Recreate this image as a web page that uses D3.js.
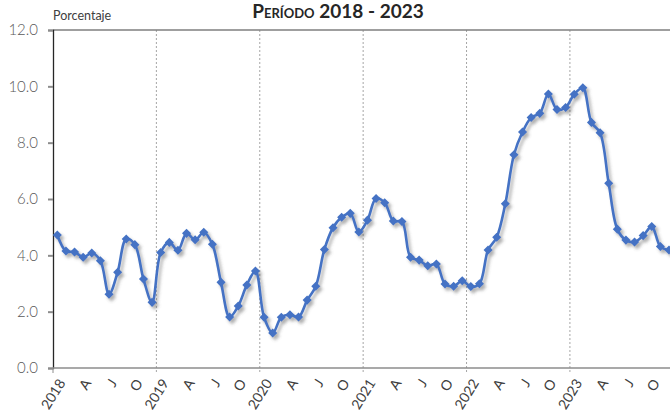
<!DOCTYPE html>
<html>
<head>
<meta charset="utf-8">
<script src="https://cdn.jsdelivr.net/npm/d3@7"></script>
<style>
  body { margin: 0; background: #fff; }
  svg { display: block; font-family: Lato, "Open Sans", sans-serif; }
</style>
</head>
<body>
<svg id="chart" width="670" height="418"></svg>
<script>
// monthly values, Jan 2018 - Dec 2023
var years = ["2018", "2019", "2020", "2021", "2022", "2023"];
var monthLetters = ["", "", "", "A", "", "", "J", "", "", "O", "", ""];
var yTicks = [0, 2, 4, 6, 8, 10, 12];

var v2018 = [4.72, 4.15, 4.12, 3.93, 4.08, 3.81, 2.62, 3.4, 4.58, 4.38, 3.16, 2.33];
var v2019 = [4.1, 4.46, 4.18, 4.78, 4.55, 4.82, 4.39, 3.04, 1.81, 2.2, 2.95, 3.44];
var v2020 = [1.8, 1.24, 1.8, 1.89, 1.81, 2.41, 2.9, 4.21, 4.98, 5.35, 5.49, 4.83];
var v2021 = [5.25, 6.02, 5.87, 5.22, 5.2, 3.93, 3.83, 3.63, 3.69, 2.98, 2.9, 3.1];
var v2022 = [2.89, 2.99, 4.19, 4.64, 5.83, 7.57, 8.38, 8.89, 9.04, 9.73, 9.18, 9.25];
var v2023 = [9.72, 9.95, 8.72, 8.35, 6.56, 4.93, 4.54, 4.47, 4.7, 5.02, 4.31, 4.19];

var values = [].concat(v2018, v2019, v2020, v2021, v2022, v2023);
var data = values.map(function (v, i) {
    return { key: i, year: years[Math.floor(i / 12)], month: i % 12, value: v };
});

var svg = d3.select("#chart");

var plotLeft = 53, plotTop = 30, plotBottom = 368, plotRight = 673.3;

var xScale = d3.scaleBand().domain(data.map(d => d.key)).range([plotLeft, plotRight]).padding(0);
var yScale = d3.scaleLinear().domain([0, 12]).range([plotBottom, plotTop]);

// shadow for the line
var defs = svg.append("defs");
var f = defs.append("filter").attr("id", "shadow")
    .attr("x", "-10%").attr("y", "-10%").attr("width", "120%").attr("height", "130%");
f.append("feDropShadow")
    .attr("dx", 2.5).attr("dy", 3).attr("stdDeviation", 1.8)
    .attr("flood-color", "#555").attr("flood-opacity", 0.45);

// title
svg.append("text")
    .attr("x", 338).attr("y", 18)
    .attr("text-anchor", "middle")
    .style("font-size", "19px")
    .style("font-weight", "bold")
    .style("font-variant", "small-caps")
    .style("fill", "#262626")
    .text("Período 2018 - 2023");

svg.append("text")
    .attr("x", 53).attr("y", 20)
    .style("font-size", "12.5px")
    .style("fill", "#404040")
    .text("Porcentaje");

// year gridlines
var yearStarts = data.filter(d => d.month === 0 && d.key > 0);
svg.append("g").selectAll("line")
    .data(yearStarts)
    .join("line")
    .attr("x1", d => xScale(d.key)).attr("x2", d => xScale(d.key))
    .attr("y1", plotTop).attr("y2", plotBottom + 4)
    .attr("stroke", "#a6a6a6")
    .attr("stroke-dasharray", "2,2");

// top border
svg.append("line")
    .attr("x1", plotLeft).attr("x2", 670)
    .attr("y1", plotTop).attr("y2", plotTop)
    .attr("stroke", "#7f7f7f").attr("stroke-width", 1.3);

// y axis
var yAxis = svg.append("g")
    .attr("transform", "translate(" + plotLeft + ",0)")
    .call(d3.axisLeft(yScale).tickValues(yTicks).tickFormat(d3.format(".1f")).tickSize(5).tickPadding(10));
yAxis.select(".domain").attr("stroke", "#262626").attr("stroke-width", 1.3);
yAxis.selectAll(".tick line").attr("stroke", "#8c8c8c").attr("stroke-width", 2);
yAxis.selectAll(".tick text")
    .style("font-size", "15px")
    .style("font-weight", 300)
    .style("fill", "#595959")
    .style("font-family", "Lato, sans-serif");

// x axis line
svg.append("line")
    .attr("x1", plotLeft).attr("x2", 670)
    .attr("y1", plotBottom).attr("y2", plotBottom)
    .attr("stroke", "#8c8c8c").attr("stroke-width", 1.3);

svg.append("line")
    .attr("x1", plotLeft).attr("x2", plotLeft)
    .attr("y1", plotBottom).attr("y2", plotBottom + 5)
    .attr("stroke", "#8c8c8c");

// x labels
var labels = data.filter(d => d.month === 0 || monthLetters[d.month] !== "");
svg.append("g").selectAll("text")
    .data(labels)
    .join("text")
    .attr("transform", d => "translate(" + (xScale(d.key) + xScale.bandwidth() / 2 + 4) + "," + 380 + ") rotate(-58)")
    .attr("text-anchor", "end")
    .attr("dominant-baseline", "central")
    .style("font-size", "14px")
    .style("fill", "#404040")
    .text(d => d.month === 0 ? d.year : monthLetters[d.month]);

// line + markers
var cx = d => xScale(d.key) + xScale.bandwidth() / 2;

var g = svg.append("g").attr("filter", "url(#shadow)");

g.append("path")
    .datum(data)
    .attr("fill", "none")
    .attr("stroke", "#4472c4")
    .attr("stroke-width", 2.6)
    .attr("d", d3.line().x(cx).y(d => yScale(d.value)).curve(d3.curveCatmullRom.alpha(0.5)));

g.selectAll(".pt")
    .data(data)
    .join("path")
    .attr("class", "pt")
    .attr("transform", d => "translate(" + cx(d) + "," + yScale(d.value) + ")")
    .attr("d", d3.symbol().type(d3.symbolDiamond2).size(52))
    .attr("fill", "#4472c4");
</script>
</body>
</html>
